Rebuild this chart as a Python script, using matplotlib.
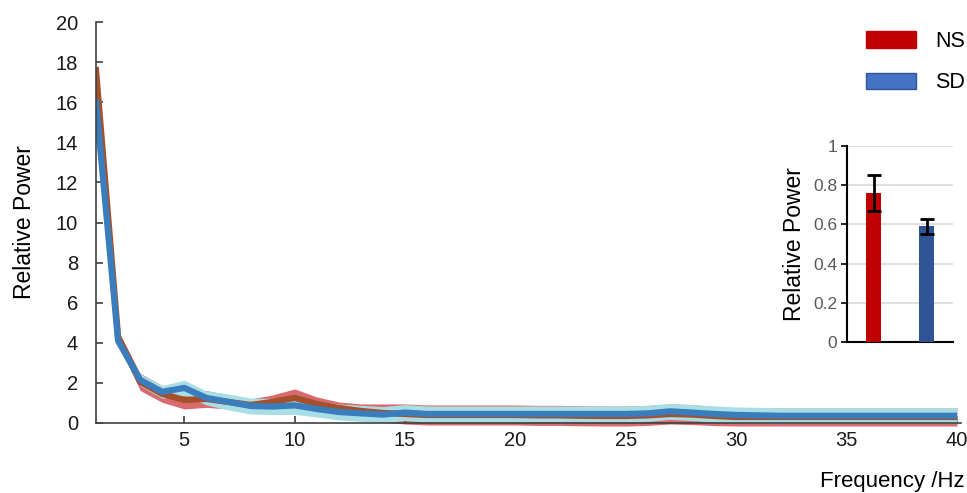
import numpy as np
import matplotlib
matplotlib.use('Agg')
import matplotlib.pyplot as plt
from matplotlib.patches import Patch

plt.rcParams['font.family'] = ['Liberation Sans', 'DejaVu Sans']

# Power spectrum, 1-40 Hz
freq = np.arange(1, 41)

ns_mean = [17.6, 4.3, 2.05, 1.45, 1.15, 1.2, 1.05, 0.9, 1.05, 1.25,
           0.95, 0.75, 0.6, 0.5, 0.45, 0.4, 0.4, 0.4, 0.4, 0.4,
           0.38, 0.38, 0.36, 0.35, 0.35, 0.38, 0.45, 0.42, 0.35, 0.3,
           0.3, 0.3, 0.3, 0.3, 0.3, 0.3, 0.3, 0.3, 0.3, 0.3]
ns_sem = [0.2, 0.3, 0.43, 0.42, 0.45, 0.42, 0.35, 0.3, 0.35, 0.45,
          0.35, 0.3, 0.35, 0.45, 0.5, 0.5, 0.5, 0.5, 0.5, 0.5,
          0.5, 0.5, 0.5, 0.5, 0.5, 0.5, 0.5, 0.5, 0.48, 0.45,
          0.45, 0.45, 0.45, 0.45, 0.45, 0.45, 0.45, 0.45, 0.45, 0.45]

sd_mean = [16.0, 4.1, 2.15, 1.55, 1.75, 1.25, 1.05, 0.85, 0.82, 0.88,
           0.7, 0.55, 0.48, 0.42, 0.52, 0.45, 0.45, 0.45, 0.45, 0.45,
           0.45, 0.45, 0.45, 0.45, 0.45, 0.48, 0.58, 0.52, 0.45, 0.4,
           0.38, 0.36, 0.36, 0.36, 0.36, 0.36, 0.36, 0.36, 0.36, 0.36]
sd_sem = [0.2, 0.25, 0.3, 0.32, 0.38, 0.35, 0.4, 0.4, 0.4, 0.45,
          0.4, 0.4, 0.4, 0.4, 0.4, 0.4, 0.4, 0.4, 0.4, 0.4,
          0.4, 0.4, 0.4, 0.4, 0.4, 0.4, 0.4, 0.4, 0.4, 0.4,
          0.4, 0.4, 0.4, 0.4, 0.4, 0.4, 0.4, 0.4, 0.4, 0.4]

# Inset: mean relative power per group
groups = ['NS', 'SD']
group_power = [0.76, 0.59]
group_err = [0.09, 0.04]

ns_mean = np.array(ns_mean)
ns_sem = np.array(ns_sem)
sd_mean = np.array(sd_mean)
sd_sem = np.array(sd_sem)

fig = plt.figure(figsize=(9.67, 4.93), dpi=100)
ax = fig.add_axes([96 / 967, 70 / 493, 861 / 967, 401 / 493])

ax.fill_between(freq, ns_mean - ns_sem, ns_mean + ns_sem,
                color='#d55a5e', alpha=0.9, lw=0, clip_on=False, zorder=1)
ax.fill_between(freq, sd_mean - sd_sem, sd_mean + sd_sem,
                color='#a9dee5', lw=0, zorder=2)
ax.plot(freq, ns_mean, color='#a4502a', lw=4.5, solid_joinstyle='round', zorder=3)
ax.plot(freq, sd_mean, color='#3a7dbc', lw=4.5, solid_joinstyle='round', zorder=4)

ax.set_xlim(1, 40)
ax.set_ylim(0, 20)
ax.set_xticks(range(5, 41, 5))
ax.set_yticks(range(0, 21, 2))
for side in ['top', 'right']:
    ax.spines[side].set_visible(False)
for side in ['left', 'bottom']:
    ax.spines[side].set_color('#404040')
    ax.spines[side].set_linewidth(1.2)
    ax.spines[side].set_zorder(5)
ax.spines['bottom'].set_bounds(1, 40.2)
ax.tick_params(direction='in', length=5, width=1.2, color='#404040',
               labelsize=14.5, labelcolor='#1a1a1a')
ax.tick_params(axis='y', pad=13)
ax.tick_params(axis='x', pad=6)
ax.set_ylabel('Relative Power', fontsize=16.5, labelpad=14)
fig.text(965 / 967, 1 - 481 / 493, 'Frequency /Hz', fontsize=16,
         ha='right', va='center')

# Inset bar chart
ins = fig.add_axes([847 / 967, 151 / 493, 106 / 967, 196 / 493])
ins.bar([0, 1], group_power, width=0.3, color=['#c00000', '#2f5597'],
        zorder=3)
ins.errorbar([0, 1], group_power, yerr=group_err, fmt='none', ecolor='black',
             elinewidth=2, capsize=5, capthick=2, zorder=4)
ins.set_xlim(-0.5, 1.5)
ins.set_ylim(0, 1)
ins.set_yticks(np.arange(0, 1.01, 0.2))
ins.set_yticklabels(['0', '0.2', '0.4', '0.6', '0.8', '1'])
ins.set_xticks([])
ins.yaxis.grid(True, color='#d9d9d9', lw=1.2, zorder=0)
ins.set_axisbelow(True)
for side in ['top', 'right']:
    ins.spines[side].set_visible(False)
for side in ['left', 'bottom']:
    ins.spines[side].set_linewidth(1.5)
ins.tick_params(axis='y', direction='out', length=4, width=1.2,
                labelsize=12.5, labelcolor='#595959', pad=3)
ins.set_ylabel('Relative Power', fontsize=16.5, labelpad=5)

handles = [Patch(facecolor='#c00000', edgecolor='#c00000', label=groups[0]),
           Patch(facecolor='#4472c4', edgecolor='#2f5597', label=groups[1])]
fig.legend(handles=handles, loc='upper left',
           bbox_to_anchor=(866 / 967, 1 - 31 / 493), frameon=False,
           fontsize=15.5, handlelength=2.33, handleheight=0.79,
           handletextpad=0.9, labelspacing=0.95, borderpad=0,
           borderaxespad=0)

plt.savefig('out.png', dpi=100)
